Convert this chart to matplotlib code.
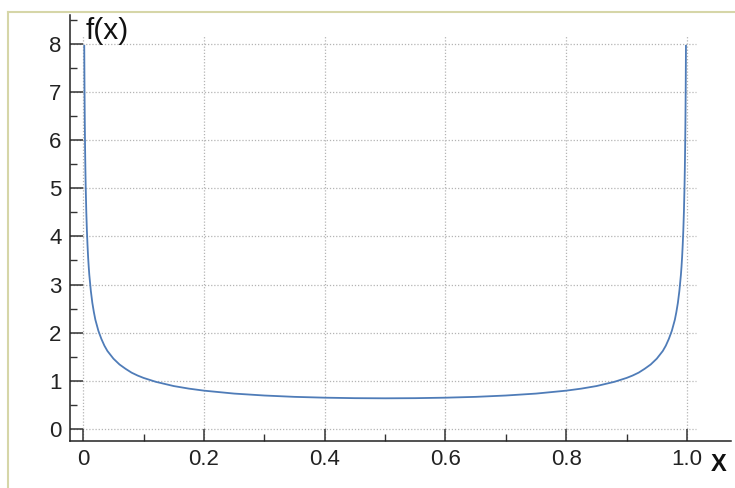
import matplotlib
matplotlib.use("Agg")
import matplotlib.pyplot as plt
from matplotlib.lines import Line2D
from matplotlib.ticker import MultipleLocator

plt.rcParams["font.family"] = ["Liberation Sans", "DejaVu Sans"]

# curve values
x_vals = [0.0016, 0.002, 0.0025, 0.003, 0.0035, 0.004, 0.005, 0.006, 0.007,
          0.008, 0.009, 0.010, 0.0125, 0.015, 0.0175, 0.020, 0.025, 0.030,
          0.035, 0.040, 0.045, 0.050, 0.060, 0.070, 0.080, 0.090, 0.100,
          0.120, 0.150, 0.175, 0.200, 0.250, 0.300, 0.350, 0.400, 0.450,
          0.500,
          0.550, 0.600, 0.650, 0.700, 0.750, 0.800, 0.825, 0.850, 0.880,
          0.900, 0.910, 0.920, 0.930, 0.940, 0.950, 0.955, 0.960, 0.965,
          0.970, 0.975, 0.980, 0.9825, 0.985, 0.9875, 0.990, 0.991, 0.992,
          0.993, 0.994, 0.995, 0.996, 0.9965, 0.997, 0.9975, 0.998, 0.9984]
y_vals = [7.96, 7.12, 6.37, 5.82, 5.39, 5.04, 4.51, 4.12, 3.82,
          3.57, 3.37, 3.20, 2.87, 2.62, 2.43, 2.27, 2.04, 1.87,
          1.73, 1.62, 1.54, 1.46, 1.34, 1.25, 1.17, 1.11, 1.06,
          0.980, 0.891, 0.838, 0.796, 0.735, 0.695, 0.667, 0.650, 0.640,
          0.637,
          0.640, 0.650, 0.667, 0.695, 0.735, 0.796, 0.838, 0.891, 0.980,
          1.06, 1.11, 1.17, 1.25, 1.34, 1.46, 1.54, 1.62, 1.73,
          1.87, 2.04, 2.27, 2.43, 2.62, 2.87, 3.20, 3.37, 3.57,
          3.82, 4.12, 4.51, 5.04, 5.39, 5.82, 6.37, 7.12, 7.96]

x_ticks = [0, 0.2, 0.4, 0.6, 0.8, 1.0]
x_tick_labels = ["0", "0.2", "0.4", "0.6", "0.8", "1.0"]
y_ticks = [0, 1, 2, 3, 4, 5, 6, 7, 8]

fig = plt.figure(figsize=(7.35, 4.88), dpi=100)
ax = fig.add_axes([70 / 735, 47 / 488, (731 - 70) / 735, (473 - 47) / 488])

xlim = (-0.022, 1.073)
ylim = (-0.25, 8.60)
ax.set_xlim(*xlim)
ax.set_ylim(*ylim)

grid_kw = dict(color="#b4b4b4", linewidth=0.9, linestyle=(0, (1, 1.5)), zorder=1)
ax.hlines(y_ticks, xlim[0], 1.015, **grid_kw)
ax.vlines(x_ticks, ylim[0], 8.19, **grid_kw)

ax.plot(x_vals, y_vals, color="#4f7cb8", linewidth=1.3, zorder=3,
        solid_joinstyle="round")

for side in ["top", "right"]:
    ax.spines[side].set_visible(False)
for side in ["left", "bottom"]:
    ax.spines[side].set_color("#222222")
    ax.spines[side].set_linewidth(1.1)

ax.set_xticks(x_ticks)
ax.set_xticklabels(x_tick_labels)
ax.set_yticks(y_ticks)
ax.xaxis.set_minor_locator(MultipleLocator(0.1))
ax.yaxis.set_minor_locator(MultipleLocator(0.5))
ax.tick_params(which="major", direction="in", length=9, width=1.1,
               color="#333333", labelsize=16, labelcolor="#222222", pad=6)
ax.tick_params(which="minor", direction="in", length=5, width=1.0, color="#333333")

ax.text(86 / 735, 1 - 39 / 488, "f(x)", transform=fig.transFigure,
        fontsize=21.5, color="#111111", ha="left", va="baseline")
ax.text(711 / 735, 1 - 471 / 488, "X", transform=fig.transFigure,
        fontsize=17, fontweight="bold", color="#111111", ha="left", va="baseline")

# khaki frame around the graphic (only top and left edges visible)
frame_kw = dict(color="#d6d6a8", linewidth=1.5, transform=fig.transFigure)
fig.add_artist(Line2D([8 / 735, 1], [1 - 12 / 488, 1 - 12 / 488], **frame_kw))
fig.add_artist(Line2D([8 / 735, 8 / 735], [0, 1 - 12 / 488], **frame_kw))

fig.savefig("out.png", dpi=100)
